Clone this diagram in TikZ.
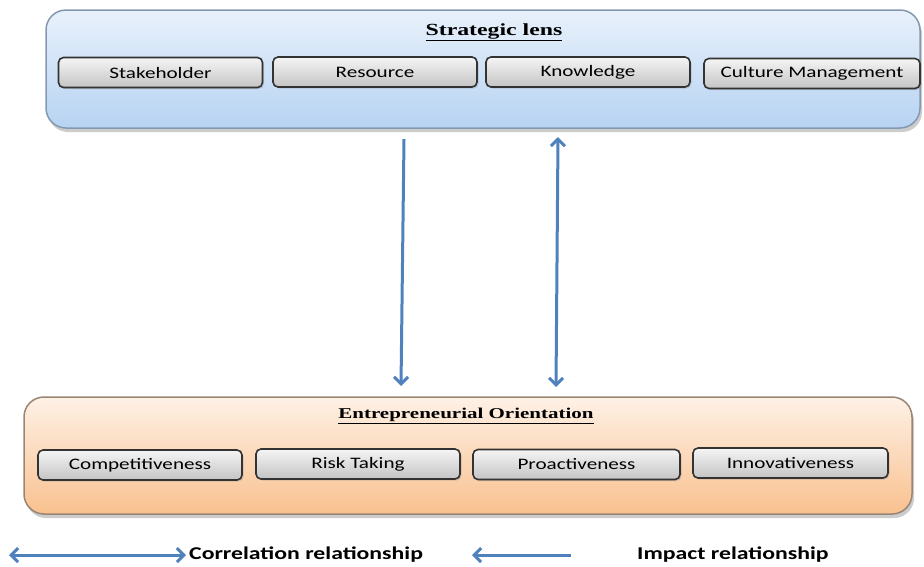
\documentclass[tikz,border=0pt]{standalone}
\usepackage{fontspec}
\setmainfont{Liberation Serif}
\newfontfamily\boxfont{Carlito}
\usetikzlibrary{arrows.meta,shadows}
\definecolor{arrowblue}{HTML}{4F81BD}
\definecolor{lensTop}{HTML}{E8F1FB}
\definecolor{lensBot}{HTML}{B7D3F2}
\definecolor{lensBorder}{HTML}{8499B0}
\definecolor{eoTop}{HTML}{FEF1E6}
\definecolor{eoBot}{HTML}{F9C18F}
\definecolor{eoBorder}{HTML}{9A8574}
\definecolor{boxTop}{HTML}{F5F5F5}
\definecolor{boxBot}{HTML}{C4C4C4}
\definecolor{boxBorder}{HTML}{333333}
\tikzset{
  panel/.style={rounded corners=20pt, line width=1.5pt, inner sep=0pt,
    drop shadow={shadow xshift=2pt, shadow yshift=-4pt, opacity=0.4}},
  lenspanel/.style={panel, draw=lensBorder, top color=lensTop, bottom color=lensBot,
    minimum width=874pt, minimum height=118pt},
  eopanel/.style={panel, draw=eoBorder, top color=eoTop, bottom color=eoBot,
    minimum width=888pt, minimum height=117pt},
  itembox/.style={rounded corners=5pt, draw=boxBorder, line width=1.6pt,
    top color=boxTop, bottom color=boxBot, minimum width=204pt, minimum height=30pt,
    inner sep=0pt, font=\boxfont\fontsize{16}{18}\selectfont,
    drop shadow={shadow xshift=1.5pt, shadow yshift=-1.5pt, opacity=0.3}},
  paneltitle/.style={inner sep=0pt},
  flow/.style={draw=arrowblue, line width=3pt, arrows={-Straight Barb[length=7pt,width=14pt]}},
  flowboth/.style={draw=arrowblue, line width=3pt, arrows={Straight Barb[length=7pt,width=14pt]-Straight Barb[length=7pt,width=14pt]}},
  legendtext/.style={anchor=west, inner sep=0pt, font=\boxfont\bfseries\fontsize{18}{20}\selectfont},
}
\newcommand{\wide}[1]{\scalebox{1.32}[1]{#1}}
\newcommand{\widet}[1]{\scalebox{1.4}[1]{#1}}
\begin{document}
\begin{tikzpicture}[x=1pt,y=-1pt]
\useasboundingbox (0,0) rectangle (924,566);
% panels
\node[lenspanel] (lens) at (483,69) {};
\node[eopanel] (eo) at (468,455.5) {};
% titles
\node[paneltitle] (lenstitle) at (494,32) {\widet{\fontsize{17}{19}\selectfont\bfseries\underline{Strategic lens}}};
\node[paneltitle] (eotitle) at (466,416) {\widet{\fontsize{15}{17}\selectfont\bfseries\underline{Entrepreneurial Orientation}}};
% strategic lens boxes
\node[itembox] (stake) at (160.5,72.5) {\wide{Stakeholder}};
\node[itembox] (res) at (375,72) {\wide{Resource}};
\node[itembox] (know) at (588,72) {\wide{Knowledge}};
\node[itembox, minimum width=216pt] (cult) at (812,73.5) {\wide{Culture Management}};
% EO boxes
\node[itembox] (comp) at (140,465) {\wide{Competitiveness}};
\node[itembox] (risk) at (358,464) {\wide{Risk Taking}};
\node[itembox, minimum width=207pt] (proa) at (576.5,464.5) {\wide{Proactiveness}};
\node[itembox, minimum width=195pt] (innov) at (790.5,463) {\wide{Innovativeness}};
% connectors
\coordinate (d1s) at (404,139);
\coordinate (d1e) at (401,386);
\coordinate (d2s) at (558,137);
\coordinate (d2e) at (556,387);
\draw[flow] (d1s) -- (d1e);
\draw[flowboth] (d2s) -- (d2e);
% legend
\coordinate (l1a) at (9,555);
\coordinate (l1b) at (186,555);
\draw[flowboth] (l1a) -- (l1b);
\node[legendtext] (corr) at (189,555) {\wide{Correlation relationship}};
\coordinate (l2a) at (571,555);
\coordinate (l2b) at (472,555);
\draw[flow] (l2a) -- (l2b);
\node[legendtext] (imp) at (637,555) {\wide{Impact relationship}};
\end{tikzpicture}
\end{document}
